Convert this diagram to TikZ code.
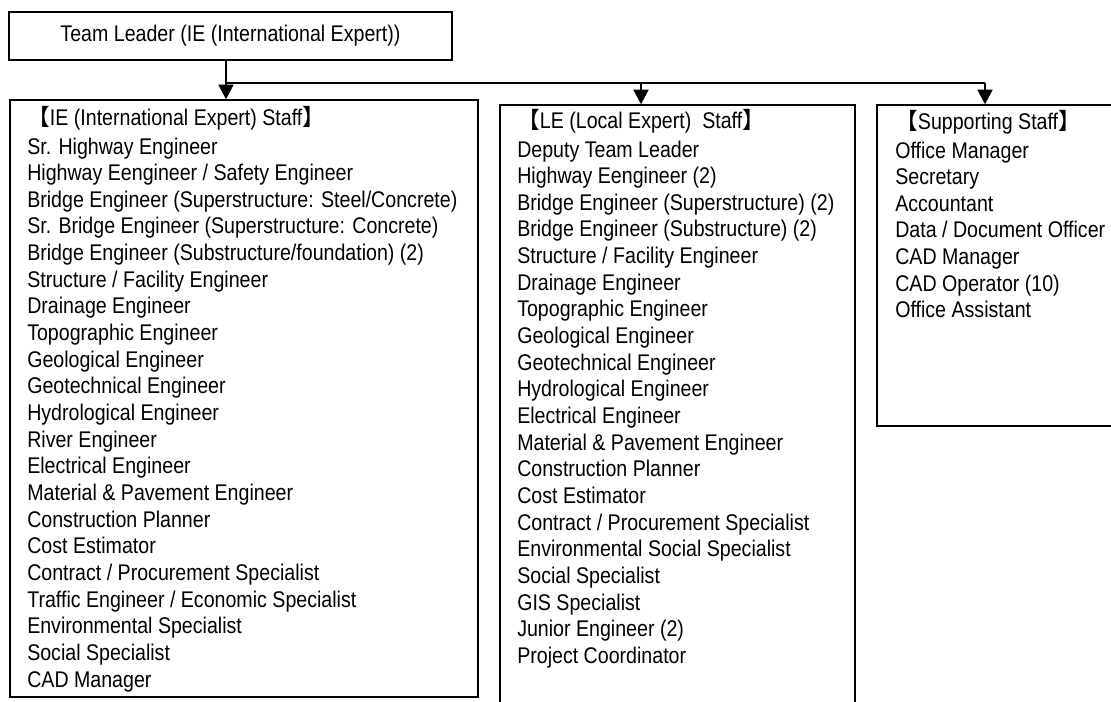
\documentclass[tikz,border=0pt]{standalone}
\usepackage{fontspec}
\setmainfont{Liberation Sans}[FakeStretch=0.865]
\newfontfamily\cjk{Noto Sans CJK JP}
\usetikzlibrary{arrows.meta,fit}

% full-width brackets round the group titles
\newcommand{\lbr}{{\cjk 【}}
\newcommand{\rbr}{{\cjk 】}}

\begin{document}
\begin{tikzpicture}[x=0.75pt, y=-0.75pt, font=\fontsize{17}{20}\selectfont, line join=miter, >={Triangle[length=11pt,width=11.5pt]},
		box/.style={draw, line width=1.2pt, inner sep=0pt},
		item/.style={anchor=base west, inner sep=0pt},
		link/.style={line width=0.8pt}]
	\useasboundingbox (0,0) rectangle (1111,701);

	% leader and the three staff groups
	\node[box, fit={(9,12) (452,60)}] (tl) {};
	\node (tl-text) at (tl.center) {Team Leader (IE (International Expert))};
	\node[box, fit={(10,100) (478,697)}] (ie) {};
	\node[box, fit={(500,105) (855,740)}] (le) {};
	\node[box, fit={(877,105) (1140,426)}] (sup) {};

	% connectors
	\coordinate (bus) at (226,83);
	\coordinate (le-in) at (641,83);
	\coordinate (sup-in) at (985,83);
	\draw[link,->] (bus |- tl.south) -- (bus |- ie.north);
	\draw[link] (bus) -- (sup-in);
	\draw[link,->] (le-in) -- (le-in |- le.north);
	\draw[link,->] (sup-in) -- (sup-in |- sup.north);

	% IE staff
	\node[item] (ie-0) at (27,125) {\lbr IE (International Expert) Staff\rbr};
	\foreach \t [count=\i] in {Sr. Highway Engineer, Highway Eengineer / Safety Engineer,
		Bridge Engineer (Superstructure: Steel/Concrete), Sr. Bridge Engineer (Superstructure: Concrete),
		Bridge Engineer (Substructure/foundation) (2), Structure / Facility Engineer, Drainage Engineer,
		Topographic Engineer, Geological Engineer, Geotechnical Engineer, Hydrological Engineer,
		River Engineer, Electrical Engineer, Material \& Pavement Engineer, Construction Planner,
		Cost Estimator, Contract / Procurement Specialist, Traffic Engineer / Economic Specialist,
		Environmental Specialist, Social Specialist, CAD Manager}
		\node[item] (ie-\i) at (27,{154+(\i-1)*26.65}) {\t};

	% LE staff
	\node[item] (le-0) at (517,128) {\lbr LE (Local Expert) \ Staff\rbr};
	\foreach \t [count=\i] in {Deputy Team Leader, Highway Eengineer (2), Bridge Engineer (Superstructure) (2),
		Bridge Engineer (Substructure) (2), Structure / Facility Engineer, Drainage Engineer,
		Topographic Engineer, Geological Engineer, Geotechnical Engineer, Hydrological Engineer,
		Electrical Engineer, Material \& Pavement Engineer, Construction Planner, Cost Estimator,
		Contract / Procurement Specialist, Environmental Social Specialist, Social Specialist,
		GIS Specialist, Junior Engineer (2), Project Coordinator}
		\node[item] (le-\i) at (517,{157+(\i-1)*26.65}) {\t};

	% supporting staff
	\node[item] (sup-0) at (895,129) {\lbr Supporting Staff\rbr};
	\foreach \t [count=\i] in {Office Manager, Secretary, Accountant, Data / Document Officer,
		CAD Manager, CAD Operator (10), Office Assistant}
		\node[item] (sup-\i) at (895,{158+(\i-1)*26.65}) {\t};
\end{tikzpicture}
\end{document}
